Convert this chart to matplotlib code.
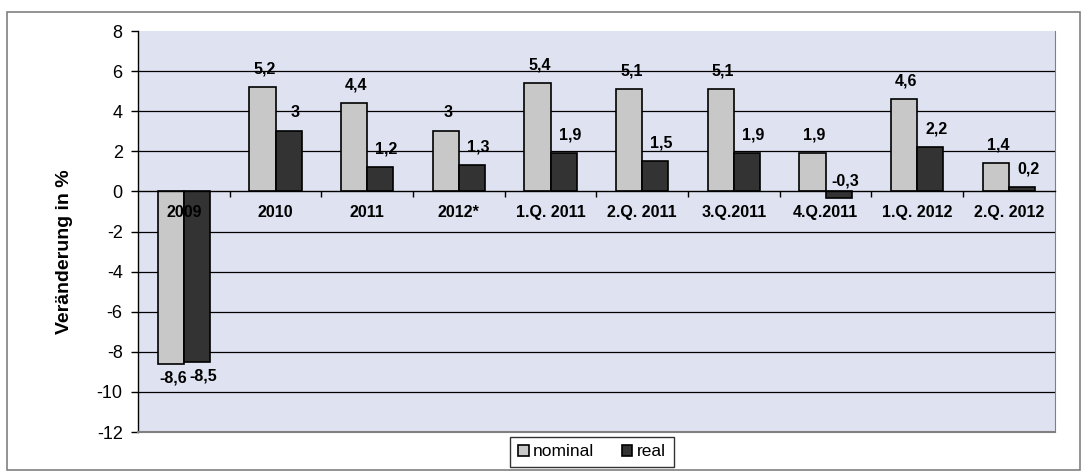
import numpy as np
import matplotlib
matplotlib.use('Agg')
import matplotlib.pyplot as plt
from matplotlib.patches import Rectangle

plt.rcParams['font.family'] = ['Liberation Sans', 'DejaVu Sans']
plt.rcParams['axes.unicode_minus'] = False

categories = ['2009', '2010', '2011', '2012*', '1.Q. 2011', '2.Q. 2011',
              '3.Q.2011', '4.Q.2011', '1.Q. 2012', '2.Q. 2012']
nominal = [-8.6, 5.2, 4.4, 3.0, 5.4, 5.1, 5.1, 1.9, 4.6, 1.4]
real = [-8.5, 3.0, 1.2, 1.3, 1.9, 1.5, 1.9, -0.3, 2.2, 0.2]
series_names = ['nominal', 'real']
yticks = list(range(-12, 9, 2))


def fmt(v):
    s = f'{v:.1f}'.replace('.', ',')
    return s[:-2] if s.endswith(',0') else s


fig = plt.figure(figsize=(10.83, 4.72), dpi=100)
ax = fig.add_axes([0.1274, 0.0847, 0.8466, 0.8493])
ax.set_facecolor('#DFE3F1')

# outer chart frame
fig.patches.append(Rectangle((7 / 1083, 2 / 472), 1073 / 1083, 458 / 472,
                             transform=fig.transFigure, fill=False,
                             edgecolor='#808080', linewidth=1.2))

x = np.arange(len(categories))
w = 0.285
b1 = ax.bar(x - w / 2, nominal, w, color='#C8C8C8', edgecolor='black',
            linewidth=1.2, label=series_names[0], zorder=1)
b2 = ax.bar(x + w / 2, real, w, color='#333333', edgecolor='black',
            linewidth=1.2, label=series_names[1], zorder=1)

for bars, vals, dx in ((b1, nominal, 1.5), (b2, real, 4.5)):
    for rect, v in zip(bars, vals):
        cx = rect.get_x() + rect.get_width() / 2
        if v < -1:
            ax.annotate(fmt(v), (cx, v), xytext=(dx, -5), textcoords='offset points',
                        ha='center', va='top', fontsize=11.5, fontweight='bold')
        else:
            ax.annotate(fmt(v), (cx, max(v, 0)), xytext=(dx, 8 if v > 0 else 2),
                        textcoords='offset points',
                        ha='center', va='bottom', fontsize=11.5, fontweight='bold')

for t in yticks:
    if t not in (-12, 0, 8):
        ax.axhline(t, color='black', linewidth=0.9, zorder=0.5)

ax.set_ylim(-12, 8)
ax.set_yticks(yticks)
ax.set_xlim(-0.5, len(categories) - 0.5)

ax.spines['bottom'].set_position(('data', 0))
ax.spines['bottom'].set_linewidth(1.0)
ax.spines['left'].set_linewidth(1.0)
ax.spines['top'].set_visible(False)
ax.spines['right'].set_color('#808080')
ax.axhline(-12, color='#808080', linewidth=1.5, zorder=3, clip_on=False)

# boundary ticks on the zero line, labels at category centres
ax.set_xticks(np.arange(0.5, len(categories) - 0.5, 1))
ax.set_xticklabels([])
ax.tick_params(axis='x', which='major', direction='out', length=4, width=1)
ax.set_xticks(x, minor=True)
ax.set_xticklabels(categories, minor=True, fontsize=11.5, fontweight='bold')
ax.tick_params(axis='x', which='minor', length=0, pad=10)
ax.tick_params(axis='y', direction='out', length=5, width=1, labelsize=13, pad=6)

ax.set_ylabel('Veränderung in %', fontsize=14, fontweight='bold')
ax.yaxis.set_label_coords(-0.071, 0.45)

fig.legend(loc='center', bbox_to_anchor=(592 / 1083, 1 - 452 / 472),
           ncol=2, fontsize=12.5, frameon=True, fancybox=False, edgecolor='black',
           handlelength=0.6, handleheight=0.6, handletextpad=0.25, columnspacing=1.6,
           borderpad=0.45, borderaxespad=0)

fig.savefig('out.png', dpi=100)
